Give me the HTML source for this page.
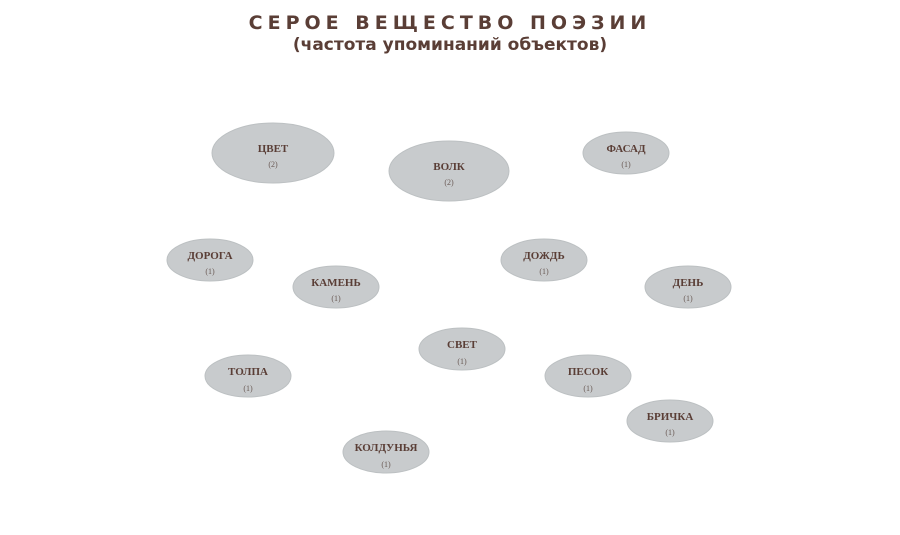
<!DOCTYPE html>
<html><head><meta charset="utf-8"><style>
html,body{margin:0;padding:0;background:#fff;}
svg{display:block}
</style></head><body>
<svg width="900" height="535" viewBox="0 0 900 535" xmlns="http://www.w3.org/2000/svg">
<g font-family="'DejaVu Sans', sans-serif" font-weight="bold" fill="#5a3e36" text-anchor="middle">
<text x="450" y="29" font-size="19" letter-spacing="5">СЕРОЕ ВЕЩЕСТВО ПОЭЗИИ</text>
<text x="450" y="50" font-size="17">(частота упоминаний объектов)</text>
</g>
<g fill="#c8cbcd" stroke="#bcc0c2" stroke-width="1">
<ellipse cx="273" cy="153" rx="61" ry="30"/>
<ellipse cx="449" cy="171" rx="60" ry="30"/>
<ellipse cx="626" cy="153" rx="43" ry="21"/>
<ellipse cx="210" cy="260" rx="43" ry="21"/>
<ellipse cx="336" cy="287" rx="43" ry="21"/>
<ellipse cx="544" cy="260" rx="43" ry="21"/>
<ellipse cx="688" cy="287" rx="43" ry="21"/>
<ellipse cx="462" cy="349" rx="43" ry="21"/>
<ellipse cx="248" cy="376" rx="43" ry="21"/>
<ellipse cx="588" cy="376" rx="43" ry="21"/>
<ellipse cx="670" cy="421" rx="43" ry="21"/>
<ellipse cx="386" cy="452" rx="43" ry="21"/>
</g>
<g font-family="'Liberation Serif', serif" font-weight="bold" font-size="11" fill="#5a3e36" text-anchor="middle">
<text x="273" y="152">ЦВЕТ</text>
<text x="449" y="170">ВОЛК</text>
<text x="626" y="152">ФАСАД</text>
<text x="210" y="259">ДОРОГА</text>
<text x="336" y="286">КАМЕНЬ</text>
<text x="544" y="259">ДОЖДЬ</text>
<text x="688" y="286">ДЕНЬ</text>
<text x="462" y="348">СВЕТ</text>
<text x="248" y="375">ТОЛПА</text>
<text x="588" y="375">ПЕСОК</text>
<text x="670" y="420">БРИЧКА</text>
<text x="386" y="451">КОЛДУНЬЯ</text>
</g>
<g font-family="'Liberation Serif', serif" font-size="8" fill="#6a5a55" text-anchor="middle">
<text x="273" y="167">(2)</text>
<text x="449" y="185">(2)</text>
<text x="626" y="167">(1)</text>
<text x="210" y="274">(1)</text>
<text x="336" y="301">(1)</text>
<text x="544" y="274">(1)</text>
<text x="688" y="301">(1)</text>
<text x="462" y="364">(1)</text>
<text x="248" y="391">(1)</text>
<text x="588" y="391">(1)</text>
<text x="670" y="435">(1)</text>
<text x="386" y="467">(1)</text>
</g>
</svg>
</body></html>
